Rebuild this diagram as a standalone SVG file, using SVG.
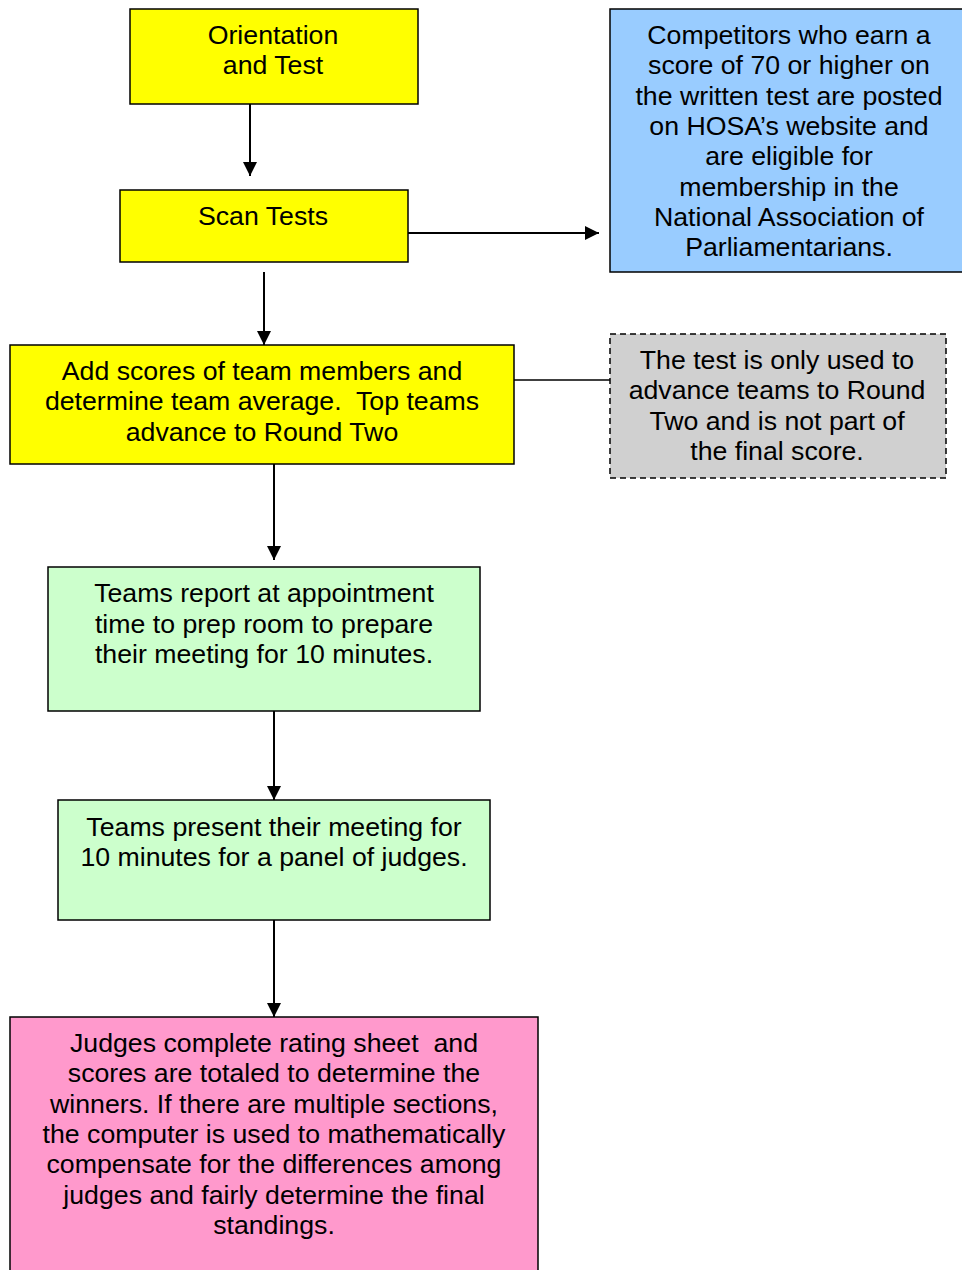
<svg xmlns="http://www.w3.org/2000/svg" width="962" height="1270" viewBox="0 0 962 1270">
<style>
.box{stroke:#000;stroke-width:1.5}
.y{fill:#FFFF00}
.b{fill:#99CCFF}
.g{fill:#CCFFCC}
.p{fill:#FF99CC}
.n{fill:#D0D0D0;stroke:#000;stroke-width:1.5;stroke-dasharray:6 4}
text{font-family:"Liberation Sans",Arial,sans-serif;font-size:26.7px;fill:#000;text-anchor:middle;white-space:pre}
.c{stroke:#000;stroke-width:2;fill:none}
</style>
<defs>
<marker id="ah" viewBox="0 0 10 10" refX="10" refY="5" markerWidth="7.5" markerHeight="7" markerUnits="strokeWidth" orient="auto">
<path d="M0,0 L10,5 L0,10 z" fill="#000"/>
</marker>
</defs>
<g id="connectors">
<line class="c" x1="250" y1="104" x2="250" y2="176" marker-end="url(#ah)"/>
<line class="c" x1="408" y1="233" x2="599" y2="233" marker-end="url(#ah)"/>
<line class="c" x1="264" y1="272" x2="264" y2="345" marker-end="url(#ah)"/>
<line x1="514" y1="380" x2="610" y2="380" stroke="#000" stroke-width="1.5"/>
<line class="c" x1="274" y1="464" x2="274" y2="560" marker-end="url(#ah)"/>
<line class="c" x1="274" y1="704" x2="274" y2="800" marker-end="url(#ah)"/>
<line class="c" x1="274" y1="920" x2="274" y2="1017" marker-end="url(#ah)"/>
</g>
<g id="orientation">
<rect class="box y" x="130" y="9" width="288" height="95"/>
<text x="273" y="44">Orientation</text>
<text x="273" y="74">and Test</text>
</g>
<g id="scan">
<rect class="box y" x="120" y="190" width="288" height="72"/>
<text x="263" y="225">Scan Tests</text>
</g>
<g id="competitors">
<rect class="box b" x="610" y="9" width="360" height="263"/>
<text x="789" y="44">Competitors who earn a</text>
<text x="789" y="74">score of 70 or higher on</text>
<text x="789" y="105">the written test are posted</text>
<text x="789" y="135">on HOSA’s website and</text>
<text x="789" y="165">are eligible for</text>
<text x="789" y="196">membership in the</text>
<text x="789" y="226">National Association of</text>
<text x="789" y="256">Parliamentarians.</text>
</g>
<g id="addscores">
<rect class="box y" x="10" y="345" width="504" height="119"/>
<text x="262" y="380">Add scores of team members and</text>
<text x="262" y="410" xml:space="preserve">determine team average.  Top teams</text>
<text x="262" y="441">advance to Round Two</text>
</g>
<g id="note">
<rect class="n" x="610" y="334" width="336" height="144"/>
<text x="777" y="369">The test is only used to</text>
<text x="777" y="399">advance teams to Round</text>
<text x="777" y="430">Two and is not part of</text>
<text x="777" y="460">the final score.</text>
</g>
<g id="report">
<rect class="box g" x="48" y="567" width="432" height="144"/>
<text x="264" y="602">Teams report at appointment</text>
<text x="264" y="633">time to prep room to prepare</text>
<text x="264" y="663">their meeting for 10 minutes.</text>
</g>
<g id="present">
<rect class="box g" x="58" y="800" width="432" height="120"/>
<text x="274" y="836">Teams present their meeting for</text>
<text x="274" y="866">10 minutes for a panel of judges.</text>
</g>
<g id="judges">
<rect class="box p" x="10" y="1017" width="528" height="262"/>
<text x="274" y="1052" xml:space="preserve">Judges complete rating sheet  and</text>
<text x="274" y="1082">scores are totaled to determine the</text>
<text x="274" y="1113">winners. If there are multiple sections,</text>
<text x="274" y="1143">the computer is used to mathematically</text>
<text x="274" y="1173">compensate for the differences among</text>
<text x="274" y="1204">judges and fairly determine the final</text>
<text x="274" y="1234">standings.</text>
</g>
</svg>
